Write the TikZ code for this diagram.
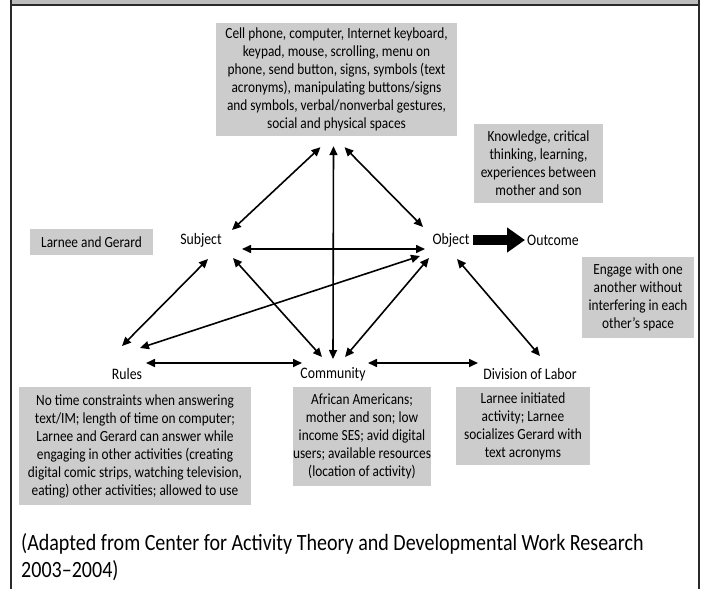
\documentclass[tikz,border=0pt]{standalone}
\usepackage{fontspec}
\setmainfont{Carlito}[FakeStretch=0.86]
\usetikzlibrary{arrows.meta}
\definecolor{boxgray}{HTML}{CCCCCC}
\definecolor{bargray}{HTML}{BDBDBD}
\definecolor{framec}{HTML}{2A2A2A}
\begin{document}
\begin{tikzpicture}[x=1pt,y=-1pt,
  gbox/.style={fill=boxgray, inner sep=0pt, align=center, font=\fontsize{15.5}{18}\selectfont},
  lbl/.style={font=\fontsize{16}{18}\selectfont, inner sep=1pt},
  con/.style={line width=1.6pt, {Triangle[length=9pt,width=8pt]}-{Triangle[length=9pt,width=8pt]}},
]
\useasboundingbox (0,0) rectangle (707,589);
\fill[bargray] (11,0) rectangle (699,5);
\draw[line width=1.5pt, framec] (11,5) -- (699,5);
\draw[line width=1.5pt, framec] (11,0) -- (11,589);
\draw[line width=1.5pt, framec] (699,0) -- (699,589);

% grey boxes
\node[gbox, minimum width=241pt, minimum height=113pt] (tool) at (336.5,79.5)
  {Cell phone, computer, Internet keyboard,\\ keypad, mouse, scrolling, menu on\\ phone, send button, signs, symbols (text\\ acronyms), manipulating buttons/signs\\ and symbols, verbal/nonverbal gestures,\\ social and physical spaces};
\node[gbox, minimum width=129pt, minimum height=79pt] (know) at (538.5,163.5)
  {Knowledge, critical\\ thinking, learning,\\ experiences between\\ mother and son};
\node[gbox, minimum width=123pt, minimum height=26pt] (larnee) at (91.5,242)
  {Larnee and Gerard};
\node[gbox, minimum width=112pt, minimum height=81pt] (engage) at (638,297.5)
  {Engage with one\\ another without\\ interfering in each\\ other’s space};
\node[gbox, minimum width=232pt, minimum height=118pt] (rulesbox) at (135,446)
  {No time constraints when answering\\ text/IM; length of time on computer;\\ Larnee and Gerard can answer while\\ engaging in other activities (creating\\ digital comic strips, watching television,\\ eating) other activities; allowed to use};
\node[gbox, minimum width=130pt, minimum height=99pt] (commbox) at (362,436.5)
  {African Americans;\\ mother and son; low\\ income SES; avid digital\\ users; available resources\\ (location of activity)};
\node[gbox, minimum width=134pt, minimum height=78pt] (divbox) at (523,426)
  {Larnee initiated\\ activity; Larnee\\ socializes Gerard with\\ text acronyms};

% labels
\node[lbl] (subj) at (201,240) {Subject};
\node[lbl] (obj) at (451,240) {Object};
\node[lbl] (outc) at (553,240) {Outcome};
\node[lbl] (rules) at (127,374) {Rules};
\node[lbl] (comm) at (333,374) {Community};
\node[lbl] (div) at (530,374) {Division of Labor};

% connectors
\draw[con] ([shift={(-16,11)}]tool.south) -- ([shift={(31,-10)}]subj.center);
\draw[con] ([shift={(8,11)}]tool.south) -- ([shift={(-28,-13)}]obj.center);
\draw[con] ([shift={(-3,10)}]tool.south) -- ([shift={(0,-15)}]comm.center);
\draw[con] ([shift={(41,9)}]subj.center) -- ([shift={(-26,9)}]obj.center);
\draw[con] ([shift={(7,19)}]subj.center) -- ([shift={(-5,-28)}]rules.center);
\draw[con] ([shift={(32,18)}]subj.center) -- ([shift={(-11,-17)}]comm.center);
\draw[con] ([shift={(-31,16)}]obj.center) -- ([shift={(13,-26)}]rules.center);
\draw[con] ([shift={(-22,18)}]obj.center) -- ([shift={(12,-17)}]comm.center);
\draw[con] ([shift={(6,19)}]obj.center) -- ([shift={(10,-18)}]div.center);
\draw[con] ([shift={(19,-11)}]rules.center) -- ([shift={(-31,-11)}]comm.center);
\draw[con] ([shift={(35,-11)}]comm.center) -- ([shift={(-52,-11)}]div.center);
\draw[line width=10pt, -{Triangle[length=18pt,width=24pt]}] ([xshift=2pt]obj.east) -- ([xshift=-1pt]outc.west);

% footer
\node[anchor=west, align=left, inner sep=0pt, font=\fontsize{23.3}{27}\selectfont] (foot) at (21,557)
  {(Adapted from Center for Activity Theory and Developmental Work Research\\ 2003–2004)};
\end{tikzpicture}
\end{document}
